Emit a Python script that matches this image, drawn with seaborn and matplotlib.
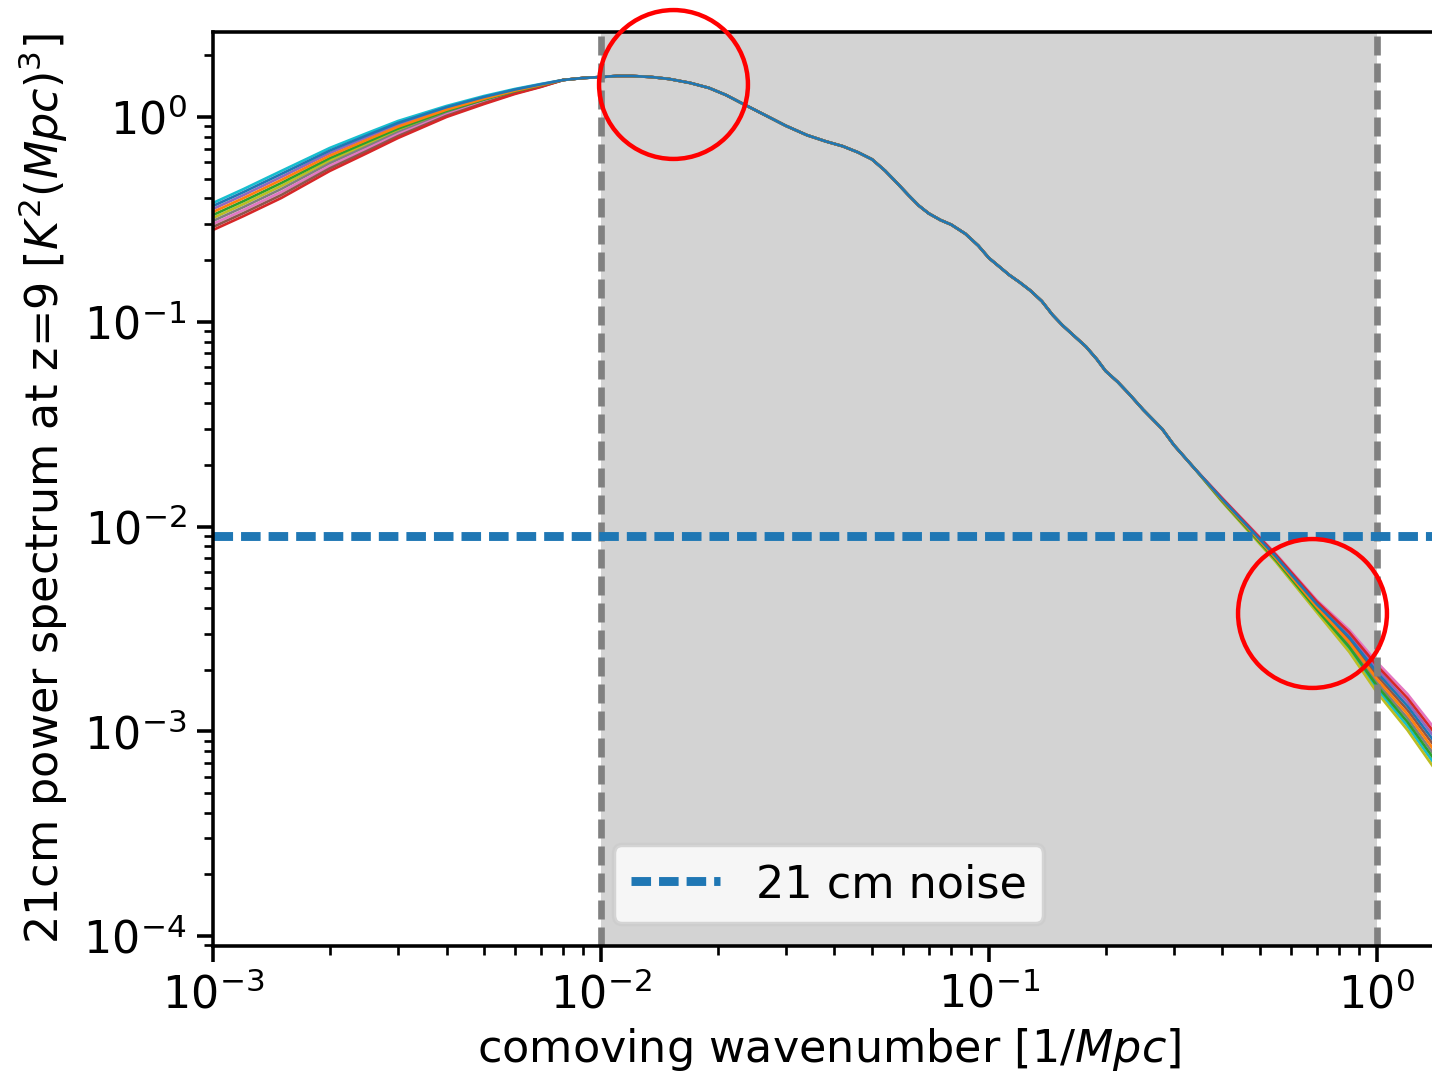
import pandas as pd
import matplotlib
matplotlib.use("Agg")
import matplotlib.pyplot as plt
import seaborn as sns

# ================== data ==================
# wavenumber grid [1/Mpc], split in three pieces:
# low-k (curves spread out), shared middle, high-k (curves spread out again)
k_low = [0.001, 0.0012, 0.0015, 0.002, 0.0025, 0.003, 0.004, 0.005, 0.006, 0.007]
k_mid = [0.008, 0.009, 0.01, 0.011, 0.012, 0.0135, 0.015, 0.017, 0.019, 0.021,
         0.023, 0.026, 0.03, 0.034, 0.038, 0.042, 0.046, 0.05, 0.054, 0.058,
         0.062, 0.066, 0.07, 0.075, 0.08, 0.087, 0.094, 0.1, 0.106, 0.113,
         0.12, 0.128, 0.137, 0.146, 0.155, 0.165, 0.178, 0.19, 0.2, 0.215,
         0.23, 0.25, 0.28, 0.3, 0.34]
k_high = [0.4, 0.55, 0.7, 0.85, 1.0, 1.2, 1.4]

# middle part, all models on top of each other
pk_mid = [1.516, 1.550, 1.567, 1.586, 1.586, 1.567, 1.533, 1.466, 1.386, 1.281,
          1.171, 1.040, 0.905, 0.815, 0.760, 0.720, 0.672, 0.621, 0.547, 0.476,
          0.416, 0.369, 0.338, 0.314, 0.298, 0.269, 0.235, 0.205, 0.187, 0.169,
          0.156, 0.142, 0.126, 0.108, 0.0959, 0.0861, 0.0756, 0.0655, 0.0575, 0.0508,
          0.0444, 0.0372, 0.0299, 0.0250, 0.0191]

# low-k part, one row per model (tab10 order)
pk_low = [
    [0.3675, 0.4302, 0.5268, 0.6854, 0.8150, 0.9358, 1.1166, 1.2536, 1.3608, 1.4439],  # blue
    [0.3436, 0.4021, 0.4924, 0.6471, 0.7748, 0.8966, 1.0855, 1.2285, 1.3440, 1.4331],  # orange
    [0.3322, 0.3888, 0.4761, 0.6292, 0.7558, 0.8776, 1.0710, 1.2161, 1.3365, 1.4278],  # green
    [0.2806, 0.3284, 0.4021, 0.5449, 0.6671, 0.7896, 1.0000, 1.1574, 1.2950, 1.4012],  # red
    [0.3553, 0.4159, 0.5093, 0.6664, 0.7951, 0.9160, 1.1016, 1.2410, 1.3532, 1.4384],  # purple
    [0.2903, 0.3397, 0.4159, 0.5611, 0.6838, 0.8067, 1.0136, 1.1692, 1.3038, 1.4064],  # brown
    [0.3002, 0.3514, 0.4302, 0.5771, 0.7010, 0.8241, 1.0274, 1.1811, 1.3111, 1.4118],  # pink
    [0.3105, 0.3634, 0.4450, 0.5942, 0.7193, 0.8420, 1.0425, 1.1931, 1.3200, 1.4171],  # gray
    [0.3211, 0.3759, 0.4603, 0.6111, 0.7373, 0.8602, 1.0566, 1.2052, 1.3275, 1.4224],  # olive
    [0.3802, 0.4450, 0.5449, 0.7057, 0.8353, 0.9560, 1.1317, 1.2663, 1.3700, 1.4493],  # cyan
]

# high-k part, one row per model (tab10 order)
pk_high = [
    [0.013570, 0.007121, 0.004183, 0.002876, 0.001947, 0.001328, 0.0009028],  # blue
    [0.013435, 0.006982, 0.004060, 0.002721, 0.001806, 0.001214, 0.0008170],  # orange
    [0.013301, 0.006843, 0.003940, 0.002575, 0.001675, 0.001110, 0.0007391],  # green
    [0.013706, 0.007265, 0.004310, 0.003039, 0.002099, 0.001453, 0.0009979],  # red
    [0.013638, 0.007194, 0.004246, 0.002956, 0.002021, 0.001389, 0.0009493],  # purple
    [0.013502, 0.007051, 0.004121, 0.002797, 0.001875, 0.001270, 0.0008588],  # brown
    [0.013775, 0.007339, 0.004375, 0.003123, 0.002179, 0.001520, 0.0010490],  # pink
    [0.013367, 0.006913, 0.003999, 0.002647, 0.001739, 0.001161, 0.0007771],  # gray
    [0.013169, 0.006707, 0.003823, 0.002438, 0.001554, 0.001014, 0.0006688],  # olive
    [0.013234, 0.006776, 0.003882, 0.002505, 0.001614, 0.001061, 0.0007031],  # cyan
]

model_names = ["m%d" % i for i in range(10)]

noise_level = 9.0e-3
band_k = [1e-2, 1.0]

# red rings marking the two regions of interest
circle_k = [0.01535, 0.68]
circle_p = [1.45, 0.00378]
# ================================================================

OUT = "out.png"
DPI = 320


def build_frame():
    rows = []
    for name, lo, hi in zip(model_names, pk_low, pk_high):
        ks = k_low + k_mid + k_high
        ps = lo + pk_mid + hi
        for k, p in zip(ks, ps):
            rows.append({"k": k, "P": p, "model": name})
    return pd.DataFrame(rows)


def plot_spectra(df, save_path):
    fig = plt.figure(figsize=(1432 / DPI, 1077 / DPI), dpi=DPI)
    # axes runs a little past the right edge (the original was cropped)
    ax = fig.add_axes([213 / 1432, 131 / 1077, 1232 / 1432, 914 / 1077])

    ax.axvspan(band_k[0], band_k[1], color="lightgray", zorder=1, lw=0)

    # colours stay tab10, but blue is drawn last so it sits on top
    colors = dict(zip(model_names, sns.color_palette("tab10", 10)))
    sns.lineplot(data=df, x="k", y="P", hue="model",
                 hue_order=model_names[::-1], palette=colors,
                 linewidth=0.6, legend=False, estimator=None, ax=ax)

    for kv in band_k:
        ax.axvline(kv, color="gray", linewidth=1.5, linestyle=(0, (2.85, 1.2)))

    ax.axhline(noise_level, color="tab:blue", linewidth=2,
               linestyle=(0, (2.2, 0.9)), label="21 cm noise")

    ax.plot(circle_k, circle_p, "o", ms=33.5, mfc="none", mec="red",
            mew=1.0, clip_on=False, zorder=5)

    ax.set_xscale("log")
    ax.set_yscale("log")
    ax.set_xlim(1e-3, 1.5)
    ax.set_ylim(8.94e-5, 2.6)
    ax.tick_params(which="major", pad=2.5)

    ax.set_xlabel(r"comoving wavenumber [1/$Mpc$]", labelpad=2)
    ax.set_ylabel(r"21cm power spectrum at z=9 [$K^2(Mpc)^3$]", labelpad=3)
    ax.legend(loc="lower center")

    fig.savefig(save_path, dpi=DPI)


def main():
    df = build_frame()
    plot_spectra(df, OUT)


if __name__ == "__main__":
    main()
